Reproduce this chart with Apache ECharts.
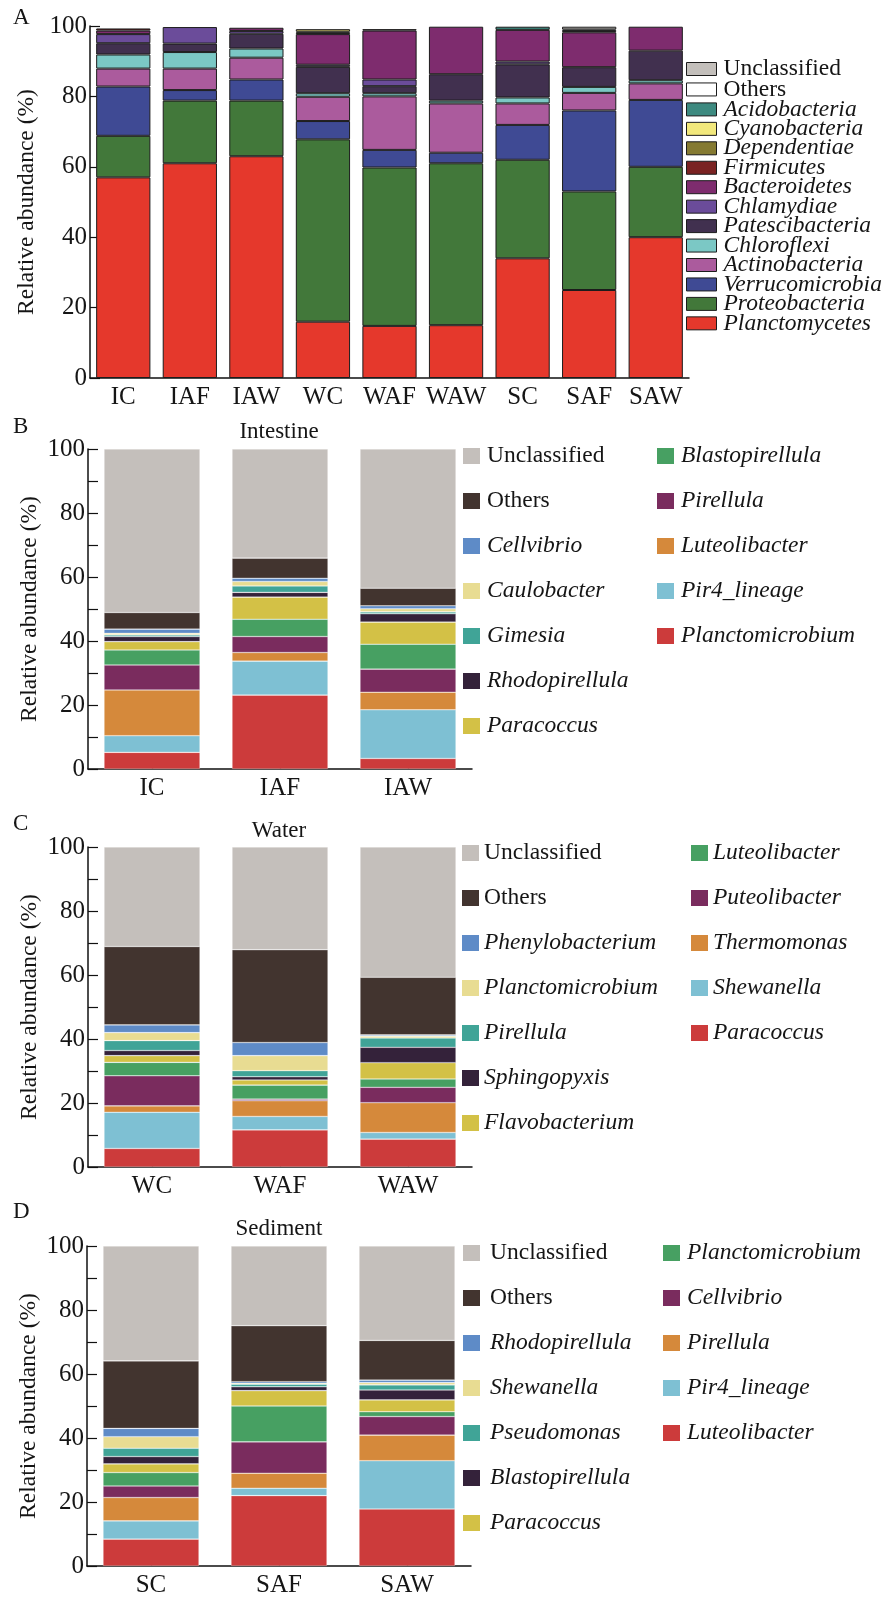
<!DOCTYPE html>
<html><head><meta charset="utf-8">
<script src="https://cdn.jsdelivr.net/npm/echarts@6/dist/echarts.min.js"></script>
<style>html,body{margin:0;padding:0;background:#fff}#chart{width:891px;height:1600px}</style>
</head><body><div id="chart"></div>
<script>
// ---------- Panel A (phylum level) ----------
const samplesA = ['IC','IAF','IAW','WC','WAF','WAW','SC','SAF','SAW'];
const A_Planctomycetes   = [57, 61, 63, 16, 14.8, 15, 34, 25, 40];
const A_Proteobacteria   = [11.8, 17.8, 15.8, 51.8, 45, 46, 28, 28, 20];
const A_Verrucomicrobia  = [14, 3, 6, 5.2, 5, 3, 9.9, 23, 19];
const A_Actinobacteria   = [5.1, 6.1, 6.2, 6.9, 15.2, 14, 6.1, 5, 4.7];
const A_Chloroflexi      = [4, 4.7, 2.6, 1, 0.9, 0.8, 1.7, 1.7, 0.9];
const A_Patescibacteria  = [3.2, 2.4, 4.2, 7.5, 2, 7.5, 9.4, 5.6, 8.4];
const A_Chlamydiae       = [2.6, 4.7, 0.8, 0.6, 1.9, 0, 0.8, 0, 0];
const A_Bacteroidetes    = [1.0, 0, 0.9, 8.7, 13.9, 13.5, 9.0, 9.9, 6.8];
const A_Firmicutes       = [0.6, 0, 0, 0.4, 0.4, 0, 0, 0.4, 0];
const A_Dependentiae     = [0, 0, 0, 0.3, 0, 0, 0, 0, 0];
const A_Cyanobacteria    = [0, 0, 0, 0.7, 0, 0, 0, 0, 0];
const A_Acidobacteria    = [0, 0, 0, 0, 0, 0, 0.9, 0, 0];
const A_Others           = [0, 0, 0, 0, 0, 0, 0, 0.4, 0];
const A_Unclassified     = [0, 0, 0, 0, 0, 0, 0, 0.8, 0];

// ---------- Panel B (Intestine, genus) ----------
const samplesB = ['IC','IAF','IAW'];
const B_Planctomicrobium = [5.2, 23.1, 3.3];
const B_Pir4_lineage     = [5.2, 10.6, 15.2];
const B_Luteolibacter    = [14.3, 2.7, 5.5];
const B_Pirellula        = [7.8, 5.0, 7.2];
const B_Blastopirellula  = [4.7, 5.4, 7.8];
const B_Paracoccus       = [2.6, 6.9, 6.9];
const B_Rhodopirellula   = [1.6, 1.5, 2.6];
const B_Gimesia          = [0.5, 2.0, 0.6];
const B_Caulobacter      = [0.5, 1.4, 1.0];
const B_Cellvibrio       = [1.3, 1.0, 0.9];
const B_Others           = [5.2, 6.3, 5.5];
const B_Unclassified     = [51.1, 34.1, 43.5];

// ---------- Panel C (Water, genus) ----------
const samplesC = ['WC','WAF','WAW'];
const C_Paracoccus       = [5.8, 11.6, 8.7];
const C_Shewanella       = [11.3, 4.2, 2.1];
const C_Thermomonas      = [2.0, 4.9, 9.3];
const C_Puteolibacter    = [9.4, 0.5, 4.8];
const C_Luteolibacter    = [4.2, 4.4, 2.6];
const C_Flavobacterium   = [2.1, 1.6, 5.1];
const C_Sphingopyxis     = [1.6, 1.0, 4.8];
const C_Pirellula        = [3.1, 1.9, 2.9];
const C_Planctomicrobium = [2.5, 4.7, 0.6];
const C_Phenylobacterium = [2.4, 4.1, 0.4];
const C_Others           = [24.5, 29.0, 18.0];
const C_Unclassified     = [31.1, 32.1, 40.7];

// ---------- Panel D (Sediment, genus) ----------
const samplesD = ['SC','SAF','SAW'];
const D_Luteolibacter    = [8.4, 22.0, 17.8];
const D_Pir4_lineage     = [5.7, 2.3, 15.1];
const D_Pirellula        = [7.3, 4.7, 8.0];
const D_Cellvibrio       = [3.6, 9.8, 5.8];
const D_Planctomicrobium = [4.2, 11.2, 1.5];
const D_Paracoccus       = [2.7, 4.8, 3.7];
const D_Blastopirellula  = [2.3, 1.2, 3.1];
const D_Pseudomonas      = [2.6, 0.8, 1.6];
const D_Shewanella       = [3.6, 0.3, 0.7];
const D_Rhodopirellula   = [2.6, 0.5, 0.8];
const D_Others           = [21.1, 17.5, 12.4];
const D_Unclassified     = [35.9, 24.9, 29.5];

// ---------- styling ----------
const FONT = 'Liberation Serif';
const TXT = '#151515';
const plainNames = ['Unclassified', 'Others'];

// panel A series, bottom -> top
const seriesA = [
  ['Planctomycetes', A_Planctomycetes, '#e5382c'],
  ['Proteobacteria', A_Proteobacteria, '#42783a'],
  ['Verrucomicrobia', A_Verrucomicrobia, '#3f4a94'],
  ['Actinobacteria', A_Actinobacteria, '#ab5b9d'],
  ['Chloroflexi', A_Chloroflexi, '#7bc8c5'],
  ['Patescibacteria', A_Patescibacteria, '#41304f'],
  ['Chlamydiae', A_Chlamydiae, '#6b4c9a'],
  ['Bacteroidetes', A_Bacteroidetes, '#7e2c6e'],
  ['Firmicutes', A_Firmicutes, '#7a2222'],
  ['Dependentiae', A_Dependentiae, '#857a32'],
  ['Cyanobacteria', A_Cyanobacteria, '#f2e87c'],
  ['Acidobacteria', A_Acidobacteria, '#3d8a80'],
  ['Others', A_Others, '#ffffff'],
  ['Unclassified', A_Unclassified, '#c3bfbb']
];

// genus palette, bottom -> top slot
const genusColors = ['#cc3b3b','#7ec0d3','#d5893b','#7a2c5e','#47a062','#d3c146','#34223a','#40a497','#e8dc92','#5e8bc7','#42342f','#c4bfbb'];

const seriesB = [
  ['Planctomicrobium', B_Planctomicrobium], ['Pir4_lineage', B_Pir4_lineage], ['Luteolibacter', B_Luteolibacter],
  ['Pirellula', B_Pirellula], ['Blastopirellula', B_Blastopirellula], ['Paracoccus', B_Paracoccus],
  ['Rhodopirellula', B_Rhodopirellula], ['Gimesia', B_Gimesia], ['Caulobacter', B_Caulobacter],
  ['Cellvibrio', B_Cellvibrio], ['Others', B_Others], ['Unclassified', B_Unclassified]
];
const seriesC = [
  ['Paracoccus', C_Paracoccus], ['Shewanella', C_Shewanella], ['Thermomonas', C_Thermomonas],
  ['Puteolibacter', C_Puteolibacter], ['Luteolibacter', C_Luteolibacter], ['Flavobacterium', C_Flavobacterium],
  ['Sphingopyxis', C_Sphingopyxis], ['Pirellula', C_Pirellula], ['Planctomicrobium', C_Planctomicrobium],
  ['Phenylobacterium', C_Phenylobacterium], ['Others', C_Others], ['Unclassified', C_Unclassified]
];
const seriesD = [
  ['Luteolibacter', D_Luteolibacter], ['Pir4_lineage', D_Pir4_lineage], ['Pirellula', D_Pirellula],
  ['Cellvibrio', D_Cellvibrio], ['Planctomicrobium', D_Planctomicrobium], ['Paracoccus', D_Paracoccus],
  ['Blastopirellula', D_Blastopirellula], ['Pseudomonas', D_Pseudomonas], ['Shewanella', D_Shewanella],
  ['Rhodopirellula', D_Rhodopirellula], ['Others', D_Others], ['Unclassified', D_Unclassified]
];

function nz(arr) { return arr.map(v => v === 0 ? null : v); }

const series = [];
seriesA.forEach(([n, d, c]) => series.push({
  name: n + '#A', type: 'bar', stack: 'A', xAxisIndex: 0, yAxisIndex: 0, barWidth: '81.5%',
  data: nz(d), itemStyle: { color: c, borderColor: '#1c1c1c', borderWidth: 1 }
}));
[[seriesB, 'B', 1], [seriesC, 'C', 2], [seriesD, 'D', 3]].forEach(([list, tag, gi]) => {
  list.forEach(([n, d], k) => series.push({
    name: n + '#' + tag, type: 'bar', stack: tag, xAxisIndex: gi, yAxisIndex: gi, barWidth: '75%',
    data: nz(d), itemStyle: { color: genusColors[k], borderColor: 'rgba(255,255,255,0.45)', borderWidth: 0.6 }
  }));
});

const LFS = 23.5;
const rich = {
  i: { fontFamily: FONT, fontStyle: 'italic', fontSize: LFS, color: TXT },
  n: { fontFamily: FONT, fontSize: LFS, color: TXT }
};
function legendFmt(name) {
  const n = name.split('#')[0];
  return plainNames.includes(n) ? '{n|' + n + '}' : '{i|' + n + '}';
}
function genusLegend(names, tag, left, top, pad) {
  return {
    orient: 'vertical', left: left, top: top, padding: 0, itemGap: 21,
    itemWidth: 17, itemHeight: 16, icon: 'rect', selectedMode: false,
    itemStyle: { borderWidth: 0 },
    data: names.map(n => n + '#' + tag), formatter: legendFmt,
    textStyle: { fontFamily: FONT, fontSize: LFS, color: TXT, lineHeight: 24, padding: [0, 0, 0, pad],
      rich: { i: Object.assign({ lineHeight: 24 }, rich.i), n: Object.assign({ lineHeight: 24 }, rich.n) } }
  };
}
const legendA = {
  orient: 'vertical', left: 686, top: 57, padding: 0, itemGap: -3.55,
  itemWidth: 30, itemHeight: 13, icon: 'rect', selectedMode: false,
  itemStyle: { borderColor: '#1c1c1c', borderWidth: 1 },
  data: seriesA.map(s => s[0] + '#A').reverse(), formatter: legendFmt,
  textStyle: { fontFamily: FONT, fontSize: LFS, color: TXT, lineHeight: 19.6, padding: [0, 0, 0, 2],
    rich: { i: Object.assign({ lineHeight: 19.6 }, rich.i), n: Object.assign({ lineHeight: 19.6 }, rich.n) } }
};

function xAxis(gi, data) {
  return {
    type: 'category', gridIndex: gi, data: data,
    axisLine: { show: true, lineStyle: { color: '#111', width: 1.5 } },
    axisTick: { show: true, inside: true, alignWithLabel: true, length: 5, lineStyle: { color: '#111', width: 1.2 } },
    axisLabel: { fontFamily: FONT, fontSize: 25, color: TXT, margin: 7, interval: 0 },
    splitLine: { show: false }
  };
}
function yAxis(gi, interval, every) {
  return {
    type: 'value', gridIndex: gi, min: 0, max: 100, interval: interval,
    axisLine: { show: true, lineStyle: { color: '#111', width: 1.5 } },
    axisTick: { show: true, inside: true, length: 10, lineStyle: { color: '#111', width: 1.2 } },
    splitLine: { show: false },
    axisLabel: { fontFamily: FONT, fontSize: 25, color: TXT, margin: 3,
      formatter: v => (v % every === 0 ? String(v) : '') },
    name: 'Relative abundance (%)', nameLocation: 'middle', nameGap: 46,
    nameTextStyle: { fontFamily: FONT, fontSize: 23.5, color: TXT }
  };
}
function ttl(text, left, top, center) {
  const t = { text: text, left: left, top: top, padding: 0,
    textStyle: { fontFamily: FONT, fontSize: 23, fontWeight: 'normal', color: TXT } };
  if (center) t.textAlign = 'center';
  return t;
}

const option = {
  backgroundColor: '#ffffff',
  animation: false,
  title: [
    ttl('A', 13, 6), ttl('B', 13, 415), ttl('C', 13, 812), ttl('D', 13, 1200),
    ttl('Intestine', 279, 420, true), ttl('Water', 279, 819, true), ttl('Sediment', 279, 1217, true)
  ],
  grid: [
    { left: 90, right: 202, top: 26, bottom: 1222 },
    { left: 88, right: 419, top: 449, bottom: 831 },
    { left: 88, right: 419, top: 847, bottom: 433 },
    { left: 87, right: 420, top: 1246, bottom: 34 }
  ],
  xAxis: [xAxis(0, samplesA), xAxis(1, samplesB), xAxis(2, samplesC), xAxis(3, samplesD)],
  yAxis: [yAxis(0, 20, 20), yAxis(1, 10, 20), yAxis(2, 10, 20), yAxis(3, 10, 20)],
  legend: [
    legendA,
    genusLegend(['Unclassified','Others','Cellvibrio','Caulobacter','Gimesia','Rhodopirellula','Paracoccus'], 'B', 463, 444, 2),
    genusLegend(['Blastopirellula','Pirellula','Luteolibacter','Pir4_lineage','Planctomicrobium'], 'B', 657, 444, 2),
    genusLegend(['Unclassified','Others','Phenylobacterium','Planctomicrobium','Pirellula','Sphingopyxis','Flavobacterium'], 'C', 462, 841, 0),
    genusLegend(['Luteolibacter','Puteolibacter','Thermomonas','Shewanella','Paracoccus'], 'C', 691, 841, 0),
    genusLegend(['Unclassified','Others','Rhodopirellula','Shewanella','Pseudomonas','Blastopirellula','Paracoccus'], 'D', 463, 1241, 5),
    genusLegend(['Planctomicrobium','Cellvibrio','Pirellula','Pir4_lineage','Luteolibacter'], 'D', 663, 1241, 2)
  ],
  series: series
};

const chart = echarts.init(document.getElementById('chart'), null, { renderer: 'canvas', width: 891, height: 1600 });
chart.setOption(option);
</script></body></html>
